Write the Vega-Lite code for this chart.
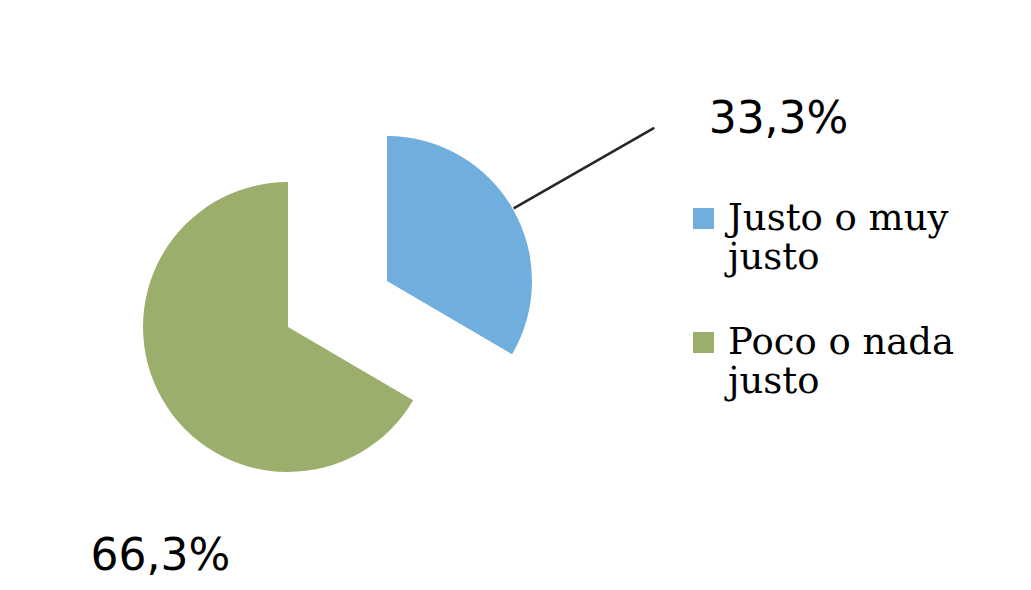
{
  "$schema": "https://vega.github.io/schema/vega-lite/v6.json",
  "width": 576,
  "height": 654,
  "padding": 0,
  "autosize": {"type": "pad"},
  "background": "white",
  "config": {"view": {"stroke": null}},
  "data": {"values": [
    {"categoria": "Justo o muy justo", "porcentaje": 33.3, "etiqueta": "33,3%"},
    {"categoria": "Poco o nada justo", "porcentaje": 66.3, "etiqueta": "66,3%"}
  ]},
  "encoding": {
    "theta": {"field": "porcentaje", "type": "quantitative", "stack": true},
    "order": {"field": "porcentaje", "sort": "ascending"}
  },
  "layer": [
    {
      "mark": {"type": "arc", "radius": 145},
      "encoding": {
        "color": {
          "field": "categoria", "type": "nominal",
          "scale": {"domain": ["Justo o muy justo", "Poco o nada justo"], "range": ["#70AEDD", "#9BAE6B"]},
          "legend": {
            "orient": "none", "legendX": 685, "legendY": 200, "title": null, "padding": 0,
            "symbolType": "square", "symbolSize": 441, "symbolStrokeWidth": 0,
            "labelFont": "DejaVu Serif", "labelFontSize": 37, "labelColor": "#000000",
            "labelLineHeight": 40, "labelLimit": 400, "labelOffset": 6, "rowPadding": 47,
            "labelBaseline": "middle",
            "labelExpr": "[substring(datum.label, 0, lastindexof(datum.label, ' ')), substring(datum.label, lastindexof(datum.label, ' ') + 1)]"
          }
        },
        "opacity": {"condition": {"test": "datum.categoria === 'Poco o nada justo'", "value": 1}, "value": 0}
      }
    },
    {
      "mark": {"type": "arc", "radius": 145, "xOffset": 99, "yOffset": -46},
      "encoding": {
        "color": {"field": "categoria", "type": "nominal"},
        "opacity": {"condition": {"test": "datum.categoria === 'Justo o muy justo'", "value": 1}, "value": 0}
      }
    },
    {
      "mark": {"type": "arc", "radius": 308, "radius2": 146, "padAngle": 3.1416, "xOffset": 99, "yOffset": -46, "filled": false, "fill": null, "stroke": "#262626", "strokeWidth": 2.6},
      "encoding": {
        "detail": {"field": "categoria", "type": "nominal"},
        "strokeOpacity": {"condition": {"test": "datum.categoria === 'Justo o muy justo'", "value": 1}, "value": 0}
      }
    },
    {
      "mark": {"type": "text", "radius": 320, "xOffset": 99, "yOffset": -46, "dx": 44, "dy": -2, "align": "left", "baseline": "middle", "font": "DejaVu Sans", "fontSize": 44, "color": "#000000"},
      "encoding": {
        "detail": {"field": "categoria", "type": "nominal"},
        "text": {"field": "etiqueta"},
        "opacity": {"condition": {"test": "datum.categoria === 'Justo o muy justo'", "value": 1}, "value": 0}
      }
    },
    {
      "mark": {"type": "text", "radius": 230, "dx": 72, "dy": 116, "align": "center", "baseline": "middle", "font": "DejaVu Sans", "fontSize": 44, "color": "#000000"},
      "encoding": {
        "detail": {"field": "categoria", "type": "nominal"},
        "text": {"field": "etiqueta"},
        "opacity": {"condition": {"test": "datum.categoria === 'Poco o nada justo'", "value": 1}, "value": 0}
      }
    }
  ]
}
